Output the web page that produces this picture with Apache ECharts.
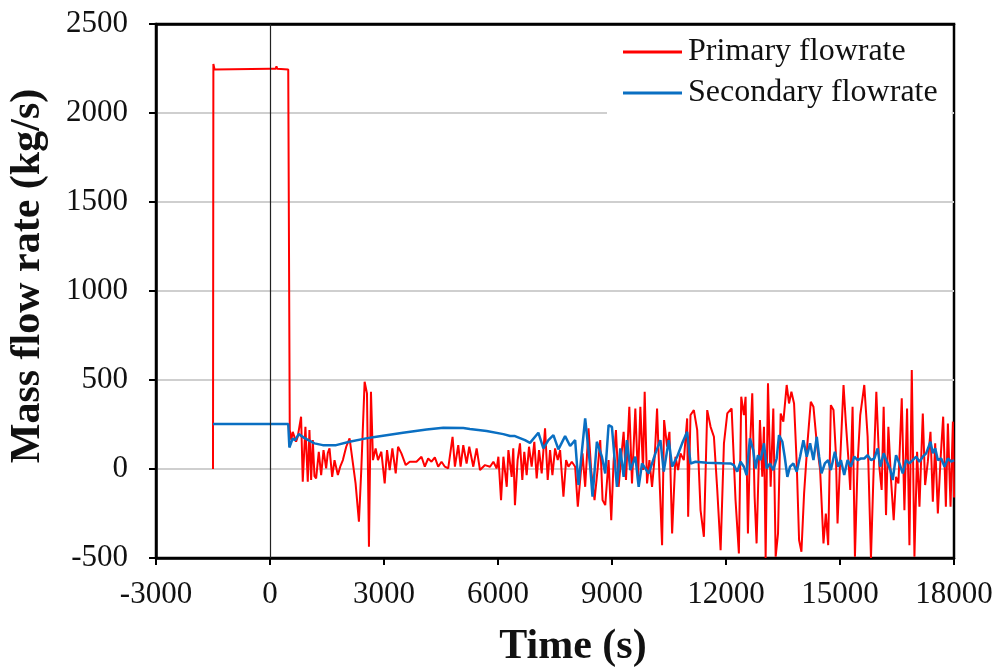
<!DOCTYPE html>
<html>
<head>
<meta charset="utf-8">
<script src="https://cdn.jsdelivr.net/npm/echarts@6/dist/echarts.min.js"></script>
<style>html,body{margin:0;padding:0;background:#fff;}#c{width:999px;height:671px;}</style>
</head>
<body>
<div id="c"></div>
<script>
// ---- data ----
const seriesNames = ['Primary flowrate', 'Secondary flowrate'];
const xTicks = [-3000, 0, 3000, 6000, 9000, 12000, 15000, 18000];
const yTicks = [-500, 0, 500, 1000, 1500, 2000, 2500];

const primaryTime = [-1500,-1490,-1460,0,150,170,190,480,520,560,598,686,730,818,862,932,994,1038,1082,1126,1170,1214,1284,1346,1408,1478,1520,1566,1636,1698,1786,1848,1918,2006,2094,2182,2252,2340,2402,2490,2552,2604,2657,2710,2780,2842,2930,3018,3080,3150,3220,3308,3370,3458,3572,3678,3854,3986,4074,4162,4250,4338,4426,4514,4602,4690,4804,4866,4954,5016,5086,5174,5244,5350,5438,5526,5658,5790,5878,5966,6010,6080,6142,6230,6274,6360,6402,6446,6516,6578,6640,6692,6754,6816,6886,6956,7018,7080,7150,7238,7308,7370,7432,7502,7572,7634,7722,7792,7854,7942,8030,8100,8162,8224,8294,8382,8452,8540,8628,8690,8752,8822,8910,8980,9042,9104,9174,9244,9306,9368,9456,9526,9614,9684,9746,9816,9860,9922,9984,10054,10124,10186,10248,10318,10371,10450,10512,10582,10670,10740,10802,10890,10978,11004,11066,11154,11242,11330,11418,11506,11594,11682,11770,11858,11946,12034,12148,12251,12339,12401,12471,12515,12577,12629,12691,12753,12805,12893,12955,12999,13043,13105,13175,13245,13307,13369,13439,13509,13597,13659,13721,13791,13861,13923,13985,14055,14143,14231,14301,14389,14477,14565,14627,14689,14759,14829,14891,14935,15005,15093,15155,15217,15270,15331,15393,15463,15533,15639,15727,15815,15885,15956,16035,16096,16149,16211,16273,16343,16413,16475,16537,16625,16695,16765,16827,16889,16959,17029,17091,17179,17240,17311,17381,17443,17505,17575,17645,17715,17786,17839,17909,17971,18000];
const primaryFlow = [0,2275,2245,2248,2248,2262,2248,2245,220,162,209,153,181,294,-72,237,-72,219,-62,162,-40,-53,97,-34,106,3,90,116,-44,50,-34,13,50,125,172,31,-81,-296,-6,490,425,-437,434,50,116,50,97,-81,106,-6,116,-25,125,88,22,41,41,69,13,59,41,65,13,41,13,3,181,13,134,13,134,31,125,13,116,-6,22,13,41,3,69,-175,69,-100,106,-44,116,-203,50,144,-62,97,-34,125,13,153,-53,106,-25,228,-62,106,-34,116,50,106,-156,50,13,41,13,-212,-62,88,-100,228,-6,-175,13,162,-175,-203,50,-287,41,219,-100,69,209,-62,350,-81,340,-62,350,-6,434,-81,50,-100,69,340,-44,-428,275,125,209,-362,69,-6,88,50,284,-268,303,331,219,-231,-381,331,237,181,-118,-456,144,312,340,-175,-474,406,303,406,-362,106,425,-156,-418,275,-44,237,-500,481,-100,340,-493,-362,312,266,472,368,434,368,31,-399,-465,-137,144,378,350,144,-6,-418,-250,-428,359,331,88,-306,50,472,256,69,-118,350,-493,31,303,472,181,-500,-6,434,13,-118,350,-259,237,-62,-287,-44,-81,397,-231,340,-428,556,-493,97,-212,312,-90,41,209,-184,144,-250,50,294,-212,256,-212,266,-160];

const secondaryTime = [-1500,480,500,510,560,598,660,756,900,1170,1390,1740,2090,2530,2800,3500,4120,4560,5086,5260,5700,6140,6320,6446,6710,6842,7062,7194,7326,7458,7590,7766,7898,8030,8118,8294,8426,8488,8602,8734,8822,8910,8998,9130,9218,9306,9394,9482,9614,9702,9790,9966,10142,10274,10362,10494,10582,10714,10846,10978,11066,11198,11500,11900,12119,12207,12295,12383,12471,12541,12629,12717,12779,12841,12911,12999,13069,13157,13245,13333,13395,13483,13545,13615,13685,13773,13861,13949,14037,14125,14213,14301,14389,14451,14513,14601,14689,14759,14865,14953,15023,15111,15199,15287,15375,15463,15551,15639,15727,15815,15903,15991,16061,16149,16237,16325,16387,16475,16563,16651,16739,16827,16915,17003,17091,17179,17267,17381,17443,17505,17575,17663,17751,17839,17927,18000];
const secondaryFlow = [253,253,250,121,150,172,162,196,175,144,134,134,153,172,181,204,222,232,230,225,213,196,185,185,162,147,204,116,162,190,110,185,129,162,-90,284,13,-156,153,69,-25,247,237,-100,116,-44,162,-6,69,-100,31,-25,88,162,-15,162,13,69,144,209,31,41,35,32,31,22,-15,41,13,-34,172,106,3,78,50,144,3,31,-6,59,190,153,69,-44,13,31,-15,69,162,69,144,50,181,69,-25,31,50,-6,97,13,50,-34,50,13,69,50,59,59,78,50,59,116,13,88,41,-6,-62,78,31,-25,50,31,50,69,41,69,88,153,88,116,50,59,13,59,41,50];

const toPairs = (t, v) => t.map((x, i) => [x, v[i]]);
const serif = '"Liberation Serif", "Times New Roman", serif';
const plain = v => String(v);

const chart = echarts.init(document.getElementById('c'), null, {renderer: 'canvas'});
chart.setOption({
  animation: false,
  backgroundColor: '#fff',
  grid: {left: 156, right: 45, top: 24, bottom: 113, show: true, borderColor: '#000', borderWidth: 2.5, backgroundColor: 'transparent'},
  legend: {
    orient: 'vertical', left: 607, top: 27,
    padding: [9, 14, 6, 16], itemGap: 9,
    backgroundColor: '#fff', borderWidth: 0,
    icon: 'rect', itemWidth: 59, itemHeight: 3,
    textStyle: {fontFamily: serif, fontSize: 32, color: '#111', padding: [0, 0, 0, 1]},
    data: seriesNames
  },
  xAxis: [{
    type: 'value', min: xTicks[0], max: xTicks[xTicks.length - 1], interval: 3000,
    axisLine: {show: true, onZero: false, lineStyle: {color: '#000', width: 2.5}},
    axisTick: {show: true, inside: false, length: 7, lineStyle: {color: '#000', width: 2}},
    axisLabel: {fontFamily: serif, fontSize: 31, color: '#111', margin: 21, formatter: plain},
    splitLine: {show: false}
  }, {
    type: 'value', position: 'top', min: xTicks[0], max: xTicks[xTicks.length - 1], interval: 3000,
    axisLine: {show: true, onZero: false, lineStyle: {color: '#000', width: 2.5}},
    axisTick: {show: false}, axisLabel: {show: false}, splitLine: {show: false}
  }],
  yAxis: {
    type: 'value', min: yTicks[0], max: yTicks[yTicks.length - 1], interval: 500,
    axisLine: {show: true, onZero: false, lineStyle: {color: '#000', width: 2.5}},
    axisTick: {show: true, inside: false, length: 7, lineStyle: {color: '#000', width: 2}},
    axisLabel: {fontFamily: serif, fontSize: 31, color: '#111', margin: 28, formatter: plain},
    splitLine: {show: true, showMinLine: false, showMaxLine: false, lineStyle: {color: '#cfcfcf', width: 2}}
  },
  graphic: [
    {type: 'text', x: 28, y: 276, rotation: Math.PI / 2, z: 10,
     style: {text: 'Mass flow rate (kg/s)', font: 'bold 42px ' + serif, fill: '#111',
             textAlign: 'center', textVerticalAlign: 'middle', align: 'center', verticalAlign: 'middle'}},
    {type: 'text', x: 573, y: 647, z: 10,
     style: {text: 'Time (s)', font: 'bold 42px ' + serif, fill: '#111',
             textAlign: 'center', textVerticalAlign: 'middle', align: 'center', verticalAlign: 'middle'}}
  ],
  series: [
    {
      name: seriesNames[0], type: 'line', showSymbol: false, symbol: 'none',
      data: toPairs(primaryTime, primaryFlow),
      lineStyle: {color: '#ff0000', width: 2}, itemStyle: {color: '#ff0000'},
      markLine: {silent: true, symbol: ['none', 'none'], label: {show: false},
                 lineStyle: {color: '#222', width: 1.2, type: 'solid'},
                 emphasis: {disabled: true}, data: [{xAxis: xTicks[1]}]}
    },
    {
      name: seriesNames[1], type: 'line', showSymbol: false, symbol: 'none',
      data: toPairs(secondaryTime, secondaryFlow),
      lineStyle: {color: '#0a6fc2', width: 2.5}, itemStyle: {color: '#0a6fc2'}
    }
  ]
});
</script>
</body>
</html>
